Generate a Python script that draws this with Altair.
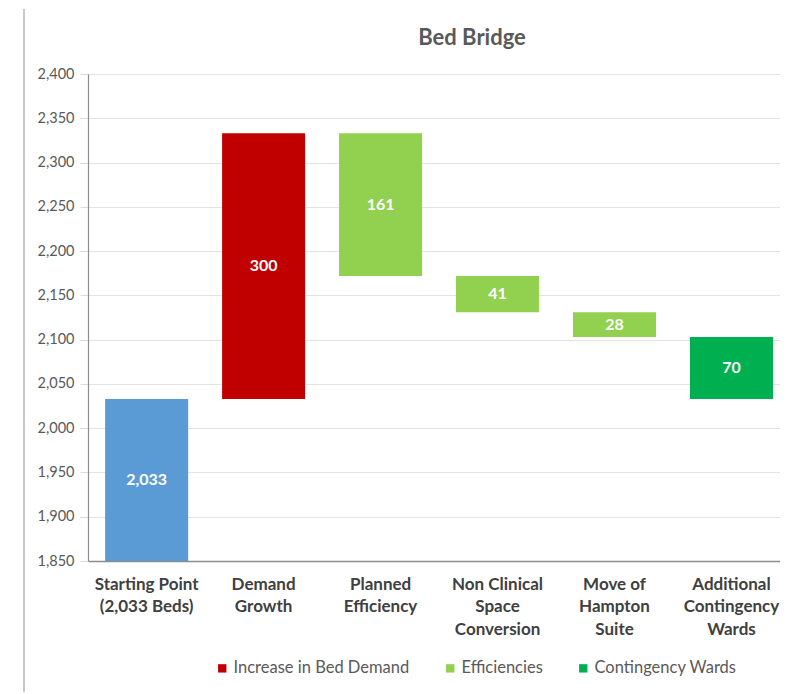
import altair as alt
import numpy as np
import pandas as pd

categories = ["Starting Point|(2,033 Beds)", "Demand|Growth", "Planned|Efficiency",
              "Non Clinical|Space|Conversion", "Move of|Hampton|Suite",
              "Additional|Contingency|Wards"]
changes = [2033, 300, -161, -41, -28, -70]
groups = ["Start", "Increase in Bed Demand", "Efficiencies", "Efficiencies",
          "Efficiencies", "Contingency Wards"]
bar_labels = ["2,033", "300", "161", "41", "28", "70"]
y_ticks = list(range(1850, 2401, 50))
legend_items = ["Increase in Bed Demand", "Efficiencies", "Contingency Wards"]
color_domain = ["Start", "Increase in Bed Demand", "Efficiencies", "Contingency Wards"]
color_range = ["#5B9BD5", "#C00000", "#92D050", "#00B050"]

y_min, y_max = 1850, 2400
cum = np.cumsum(changes)
starts = np.concatenate([[0], cum[:-1]])
ends = cum
lo = np.minimum(starts, ends)
hi = np.maximum(starts, ends)
mid = (np.maximum(lo, y_min) + hi) / 2

df = pd.DataFrame({
    "category": categories,
    "group": groups,
    "start": starts,
    "end": ends,
    "mid": mid,
    "label": bar_labels,
})

W, H = 692, 487
FONT = "Lato"

x = alt.X("category:N", sort=categories, title=None,
          scale=alt.Scale(paddingInner=0.29, paddingOuter=0.103, align=0.71),
          axis=alt.Axis(labelExpr="split(datum.label, '|')", labelAngle=0,
                        labelFont=FONT, labelFontSize=17, labelFontWeight="bold",
                        labelColor="#404040", labelLineHeight=22.5, labelPadding=15,
                        ticks=False, domainColor="#8C8C8C", domainWidth=1.5,
                        grid=False, labelLimit=200))

yscale = alt.Scale(domain=[y_min, y_max], nice=False, zero=False)

bars = alt.Chart(df).mark_bar(clip=True).encode(
    x=x,
    y=alt.Y("start:Q", scale=yscale, title=None,
            axis=alt.Axis(values=y_ticks, format=",d", labelFont=FONT,
                          labelFontSize=14.5, labelColor="#595959",
                          tickColor="#D9D9D9", tickSize=8, labelPadding=6,
                          gridColor="#E3E3E3", domainColor="#8C8C8C",
                          domainWidth=1.2)),
    y2="end:Q",
    color=alt.Color("group:N",
                    scale=alt.Scale(domain=color_domain, range=color_range),
                    legend=alt.Legend(values=legend_items, title=None,
                                      orient="none", legendX=126, legendY=586,
                                      direction="horizontal", symbolType="square",
                                      symbolSize=70, symbolStrokeWidth=0,
                                      labelFont=FONT, labelFontSize=16.5,
                                      labelColor="#595959", columnPadding=32,
                                      labelOffset=3, labelLimit=300)),
)

texts = alt.Chart(df).mark_text(font=FONT, fontSize=16, fontWeight="bold",
                                color="white", baseline="middle").encode(
    x=alt.X("category:N", sort=categories),
    y=alt.Y("mid:Q", scale=yscale),
    text="label:N",
)

title_df = pd.DataFrame({"t": ["Bed Bridge"]})
title = alt.Chart(title_df).mark_text(font=FONT, fontSize=22, fontWeight="bold",
                                      color="#595959", baseline="middle",
                                      align="center").encode(
    x=alt.value(384), y=alt.value(-36), text="t:N")

border = alt.Chart(title_df).mark_rule(color="#C8C8C8", strokeWidth=2).encode(
    x=alt.value(-64), y=alt.value(-65), y2=alt.value(618))

chart = alt.layer(bars, texts, title, border).properties(
    width=W, height=H,
    padding={"left": 15, "top": 0, "right": 0, "bottom": 0},
).configure_view(stroke=None).configure(background="white")

chart.save("out.html", embed_options={"renderer": "svg", "actions": False})
